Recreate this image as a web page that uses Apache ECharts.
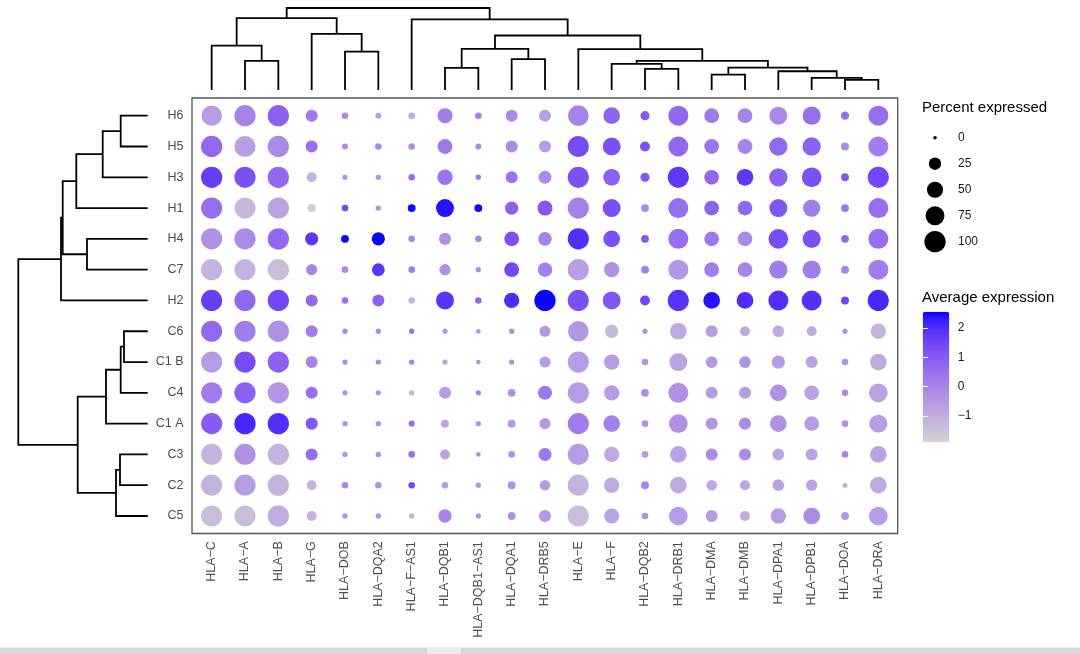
<!DOCTYPE html>
<html><head><meta charset="utf-8">
<script src="https://cdn.jsdelivr.net/npm/echarts@6/dist/echarts.min.js"></script>
<style>html,body{margin:0;padding:0;background:#fff}#c{width:1080px;height:654px}</style>
</head><body><div id="c"></div>
<script>
// ---------- data ----------
const genes = ['HLA−C','HLA−A','HLA−B','HLA−G','HLA−DOB','HLA−DQA2','HLA−F−AS1','HLA−DQB1','HLA−DQB1−AS1','HLA−DQA1','HLA−DRB5','HLA−E','HLA−F','HLA−DQB2','HLA−DRB1','HLA−DMA','HLA−DMB','HLA−DPA1','HLA−DPB1','HLA−DOA','HLA−DRA'];
const clusters = ['H6','H5','H3','H1','H4','C7','H2','C6','C1 B','C4','C1 A','C3','C2','C5'];

// percent expressed, one row per cluster (gene order as above)
const percentExpressed = [
 [89,100,100,23,3,2,3,42,3,23,23,93,55,10,86,40,40,66,69,7,86],
 [100,98,100,23,2,3,3,40,2,23,23,99,66,13,86,40,40,69,69,6,86],
 [100,99,100,13,1,1,3,44,1,23,28,99,55,10,99,40,55,69,83,6,99],
 [99,98,100,8,3,1,6,66,6,30,42,99,66,6,86,40,40,66,60,6,86],
 [99,99,100,30,6,30,3,23,3,40,32,99,55,6,86,40,40,83,69,6,86],
 [99,98,100,18,3,27,3,19,1,40,38,99,44,6,86,40,40,69,69,6,86],
 [99,99,100,23,3,23,3,66,3,44,100,99,66,13,99,55,55,86,86,6,99],
 [99,99,100,23,1,1,1,1,0.4,1,18,93,30,1,55,23,13,21,13,1,44],
 [99,99,100,23,1,1,1,1,0.4,1,18,99,44,3,66,21,21,30,23,3,55],
 [99,99,100,23,1,1,1,23,1,6,35,99,44,6,86,23,23,55,40,3,73],
 [99,100,100,23,1,1,2,6,1,6,18,99,55,3,73,23,23,55,40,3,66],
 [99,99,100,23,1,1,3,13,0.4,3,28,99,44,3,55,23,23,21,23,3,55],
 [99,99,100,13,3,3,3,3,1,6,15,99,44,6,55,16,13,21,19,0.7,55],
 [99,99,100,13,1,1,1,30,1,6,23,99,42,3,73,23,13,44,55,6,73]
];
// scaled average expression, one row per cluster
const averageExpression = [
 [-0.57,0.0,0.85,0.3,-0.2,-0.65,-0.9,0.2,0.1,-0.1,-0.65,0.05,0.8,1.0,0.7,0.25,0.05,-0.05,0.55,0.55,0.55],
 [0.68,-0.65,-0.12,0.55,-0.12,-0.12,-0.12,0.33,-0.12,-0.12,-0.57,1.35,1.22,1.22,0.68,0.41,0.01,0.68,0.86,-0.12,0.19],
 [1.66,1.22,0.68,-1.14,-0.43,-0.43,0.55,0.41,0.33,0.41,-0.12,1.22,0.86,1.08,1.79,0.68,1.79,0.86,1.22,1.08,1.44],
 [0.55,-1.23,-0.79,-1.88,1.44,-0.34,2.5,2.37,2.5,0.86,1.04,0.1,1.22,-0.12,0.55,0.86,0.68,1.08,0.19,0.33,0.55],
 [-0.34,-0.12,0.68,1.79,2.5,2.5,-0.03,-0.34,-0.03,1.22,0.01,1.97,1.22,1.08,0.55,0.33,-0.12,1.35,1.22,0.68,0.55],
 [-1.14,-1.14,-1.37,0.01,-0.12,1.88,0.19,-0.34,-0.21,1.44,0.1,-0.65,-0.34,0.1,-0.43,0.19,0.01,0.19,0.19,0.01,0.19],
 [1.66,0.68,1.44,0.68,0.41,0.86,-1.14,1.88,0.68,2.02,2.5,1.22,1.08,1.44,1.88,2.37,2.02,1.97,1.93,1.53,2.1],
 [0.68,0.19,-0.3,0.19,-0.12,-0.12,0.55,-0.48,-0.34,-0.34,-0.48,-0.43,-1.28,-0.34,-0.92,-0.57,-0.92,-0.92,-0.92,-0.34,-1.14],
 [-0.57,1.35,0.86,0.01,-0.21,-0.21,0.01,-0.74,-0.34,-0.34,-0.57,-0.57,-0.57,-0.34,-0.74,-0.48,-0.3,-0.57,-0.74,-0.34,-0.92],
 [0.19,0.86,-0.43,0.55,-0.3,-0.3,-1.1,-0.57,0.01,-0.34,0.33,-0.57,-0.57,-0.34,-0.34,-0.57,-0.57,-0.34,-0.74,-0.12,-0.74],
 [0.95,2.1,1.97,1.08,-0.3,-0.3,0.55,-0.74,-0.43,-0.43,-0.48,0.19,0.1,-0.34,-0.34,-0.43,-0.21,-0.34,-0.57,-0.34,-0.57],
 [-1.14,-0.34,-1.14,0.55,-0.3,-0.3,0.55,-0.74,-0.34,-0.34,0.33,-0.57,-0.92,-0.57,-0.74,-0.21,-0.21,-0.74,-0.74,0.01,-0.74],
 [-1.14,-0.57,-1.14,-1.14,-0.12,-0.3,1.35,-0.57,-0.34,-0.34,-0.57,-1.14,-0.92,0.01,-0.92,-0.92,-0.74,-0.74,-0.74,-1.01,-0.92],
 [-1.37,-1.37,-1.01,-1.14,-0.3,-0.3,-1.14,0.01,-0.34,-0.34,-0.43,-1.37,-0.74,-0.34,-0.57,-0.57,-0.92,-0.57,-0.12,-0.43,-0.57]
];

// hierarchical clustering of genes (columns): pairs reference leaves by name or earlier merges by '#n'
const geneMergePairs = [
 ['HLA−A','HLA−B'], ['HLA−C','#1'], ['HLA−DOB','HLA−DQA2'], ['HLA−G','#3'], ['#2','#4'],
 ['HLA−DQB1','HLA−DQB1−AS1'], ['HLA−DQA1','HLA−DRB5'], ['#6','#7'], ['HLA−DQB2','HLA−DRB1'], ['HLA−F','#9'],
 ['HLA−DMA','HLA−DMB'], ['HLA−DOA','HLA−DRA'], ['HLA−DPB1','#12'], ['HLA−DPA1','#13'], ['#11','#14'],
 ['#10','#15'], ['HLA−E','#16'], ['#8','#17'], ['HLA−F−AS1','#18'], ['#5','#19']
];
const geneMergeHeights = [29,44.3,38.3,56,71.7,22,30.7,41,21,26,15.3,10,12,18.7,22.3,29,40.7,54.3,70.3,81.7];

// hierarchical clustering of clusters (rows)
const clusterMergePairs = [
 ['H6','H5'], ['#1','H3'], ['#2','H1'], ['H4','C7'], ['#3','#4'], ['#5','H2'],
 ['C6','C1 B'], ['#7','C4'], ['#8','C1 A'], ['C3','C2'], ['#10','C5'], ['#9','#11'], ['#6','#12']
];
const clusterMergeHeights = [27,45,71.4,60.7,85,86.7,23.7,27,41.7,27.7,31.7,70,129.4];

const sizeLegendBreaks = [0,25,50,75,100];
const colorLegendBreaks = [-1,0,1,2];
const colorMin = -1.9, colorMax = 2.55;

// ---------- helpers ----------
function buildTree(leaves, pairs, heights){
  const nodes = [];
  const get = r => r[0] === '#' ? nodes[+r.slice(1) - 1] : {pos: leaves.indexOf(r), h: 0};
  pairs.forEach((p, i) => {
    const a = get(p[0]), b = get(p[1]);
    nodes.push({a, b, h: heights[i], pos: (a.pos + b.pos) / 2});
  });
  return nodes.map(n => [n.a.pos, n.a.h, n.b.pos, n.b.h, n.h]);
}
const geneTree = buildTree(genes, geneMergePairs, geneMergeHeights);
const clusterTree = buildTree(clusters, clusterMergePairs, clusterMergeHeights);

function rgb2lab(rgb){
  const [r,g,b] = rgb.map(c => { c /= 255; return c <= 0.04045 ? c/12.92 : Math.pow((c+0.055)/1.055, 2.4); });
  const X = (r*0.4124564 + g*0.3575761 + b*0.1804375)/0.95047;
  const Y = (r*0.2126729 + g*0.7151522 + b*0.0721750);
  const Z = (r*0.0193339 + g*0.1191920 + b*0.9503041)/1.08883;
  const f = t => t > 0.008856 ? Math.cbrt(t) : (7.787*t + 16/116);
  const fx = f(X), fy = f(Y), fz = f(Z);
  return [116*fy - 16, 500*(fx - fy), 200*(fy - fz)];
}
function lab2rgb([L,a,b]){
  const fy = (L+16)/116, fx = fy + a/500, fz = fy - b/200;
  const fi = t => t*t*t > 0.008856 ? t*t*t : (t - 16/116)/7.787;
  const X = fi(fx)*0.95047, Y = fi(fy), Z = fi(fz)*1.08883;
  const r = 3.2404542*X - 1.5371385*Y - 0.4985314*Z;
  const g = -0.9692660*X + 1.8760108*Y + 0.0415560*Z;
  const bb = 0.0556434*X - 0.2040259*Y + 1.0572252*Z;
  const gm = c => { c = c <= 0.0031308 ? 12.92*c : 1.055*Math.pow(c, 1/2.4) - 0.055; return Math.round(Math.max(0, Math.min(1, c))*255); };
  return 'rgb(' + gm(r) + ',' + gm(g) + ',' + gm(bb) + ')';
}
const labLow = rgb2lab([211,211,211]), labHigh = rgb2lab([0,0,255]);
const colorStops = [];
for (let i = 0; i <= 16; i++){
  const t = i/16;
  colorStops.push(lab2rgb(labLow.map((v, k) => v + (labHigh[k] - v)*t)));
}
const dotSize = p => 3.55 + 17.75*Math.sqrt(Math.max(0, p)/100);

const dotData = [];
clusters.forEach((c, r) => genes.forEach((g, j) => dotData.push([g, c, percentExpressed[r][j], averageExpression[r][j]])));

const FONT = '"Liberation Sans", Arial, Helvetica, sans-serif';
const minus = v => String(v).replace('-', '−');

function dendroTop(params, api){
  const p = [api.coord([api.value(0), api.value(1)]), api.coord([api.value(0), api.value(4)]),
             api.coord([api.value(2), api.value(4)]), api.coord([api.value(2), api.value(3)])];
  return {type: 'polyline', shape: {points: p}, style: {stroke: '#000', lineWidth: 1.8, fill: null}};
}
function dendroLeft(params, api){
  const p = [api.coord([api.value(1), api.value(0)]), api.coord([api.value(4), api.value(0)]),
             api.coord([api.value(4), api.value(2)]), api.coord([api.value(3), api.value(2)])];
  return {type: 'polyline', shape: {points: p}, style: {stroke: '#000', lineWidth: 1.8, fill: null}};
}

// ---------- chart ----------
const chart = echarts.init(document.getElementById('c'), null, {renderer: 'canvas'});
const G = {outerBoundsMode: 'none', containLabel: false};
chart.setOption({
  animation: false,
  backgroundColor: '#fff',
  textStyle: {fontFamily: FONT},
  title: [
    {text: 'Percent expressed', left: 922, top: 100, padding: 0, textStyle: {fontSize: 15, fontWeight: 'normal', color: '#000', fontFamily: FONT}},
    {text: 'Average expression', left: 922, top: 290, padding: 0, textStyle: {fontSize: 15, fontWeight: 'normal', color: '#000', fontFamily: FONT}}
  ],
  grid: [
    Object.assign({left: 195, width: 700, top: 100.3, height: 431.1}, G),
    Object.assign({left: 195, width: 700, top: 8, height: 82}, G),
    Object.assign({left: 18.3, width: 129.4, top: 100.3, height: 431.1}, G),
    Object.assign({left: 922.7, width: 26.6, top: 311.7, height: 130.6}, G),
    Object.assign({left: 925, width: 20, top: 124.7, height: 130}, G)
  ],
  xAxis: [
    {type: 'category', gridIndex: 0, data: genes, offset: 2.3,
     axisLine: {show: false},
     axisTick: {alignWithLabel: true, length: 4.5, lineStyle: {color: '#333', width: 1}},
     axisLabel: {rotate: 90, interval: 0, margin: 7.5, fontSize: 12.5, color: '#4d4d4d', fontFamily: FONT},
     splitLine: {show: false}},
    {type: 'value', gridIndex: 1, min: -0.5, max: genes.length - 0.5, show: false},
    {type: 'value', gridIndex: 2, min: 0, max: Math.max(...clusterMergeHeights), inverse: true, show: false},
    {type: 'value', gridIndex: 3, min: 0, max: 1, show: false},
    {type: 'value', gridIndex: 4, min: -1, max: 1, show: false}
  ],
  yAxis: [
    {type: 'category', gridIndex: 0, data: clusters, inverse: true, offset: 3,
     axisLine: {show: false},
     axisTick: {alignWithLabel: true, length: 4.5, lineStyle: {color: '#333', width: 1}},
     axisLabel: {interval: 0, margin: 8.5, fontSize: 12.5, color: '#4d4d4d', fontFamily: FONT},
     splitLine: {show: false}},
    {type: 'value', gridIndex: 1, min: 0, max: Math.max(...geneMergeHeights), show: false},
    {type: 'value', gridIndex: 2, min: -0.5, max: clusters.length - 0.5, inverse: true, show: false},
    {type: 'value', gridIndex: 3, min: colorMin, max: colorMax, position: 'right', z: 10,
     axisLine: {show: false}, splitLine: {show: false},
     axisTick: {show: true, inside: true, length: 5.3, customValues: colorLegendBreaks, lineStyle: {color: '#fff', width: 1}},
     axisLabel: {customValues: colorLegendBreaks, margin: 8.5, fontSize: 12, color: '#1a1a1a', formatter: minus, fontFamily: FONT}},
    {type: 'value', gridIndex: 3, min: colorMin, max: colorMax, position: 'left', z: 10,
     axisLine: {show: false}, splitLine: {show: false},
     axisTick: {show: true, inside: true, length: 5.3, customValues: colorLegendBreaks, lineStyle: {color: '#fff', width: 1}},
     axisLabel: {show: false}},
    {type: 'category', gridIndex: 4, data: sizeLegendBreaks.map(String), inverse: true, position: 'right',
     axisLine: {show: false}, axisTick: {show: false}, splitLine: {show: false},
     axisLabel: {margin: 13, fontSize: 12, color: '#1a1a1a', fontFamily: FONT}}
  ],
  visualMap: [{
    type: 'continuous', seriesIndex: 0, dimension: 3, min: colorMin, max: colorMax,
    inRange: {color: colorStops}, calculable: false, hoverLink: false,
    left: 922.7, top: 311.7, itemWidth: 26.6, itemHeight: 130.6, padding: 0, text: null, z: 4
  }],
  series: [
    {type: 'scatter', xAxisIndex: 0, yAxisIndex: 0, data: dotData,
     symbol: 'circle', symbolSize: v => dotSize(v[2]), encode: {x: 0, y: 1},
     itemStyle: {opacity: 1}, emphasis: {disabled: true}},
    {type: 'custom', xAxisIndex: 1, yAxisIndex: 1, data: geneTree, renderItem: dendroTop, silent: true},
    {type: 'custom', xAxisIndex: 2, yAxisIndex: 2, data: clusterTree, renderItem: dendroLeft, silent: true},
    {type: 'scatter', xAxisIndex: 4, yAxisIndex: 5, data: sizeLegendBreaks.map(b => [0, String(b), b]),
     symbol: 'circle', symbolSize: v => dotSize(v[2]), itemStyle: {color: '#000', opacity: 1}, silent: true}
  ],
  graphic: [
    {type: 'rect', shape: {x: 192, y: 98, width: 705.7, height: 435.5}, style: {fill: null, stroke: '#555', lineWidth: 1.3}, z: 5, silent: true},
    {type: 'rect', shape: {x: 0, y: 647.5, width: 1080, height: 7}, style: {fill: '#d9d9d9'}, z: 20, silent: true},
    {type: 'rect', shape: {x: 427, y: 647.5, width: 34, height: 7}, style: {fill: '#ebebeb'}, z: 21, silent: true}
  ]
});
</script></body></html>
